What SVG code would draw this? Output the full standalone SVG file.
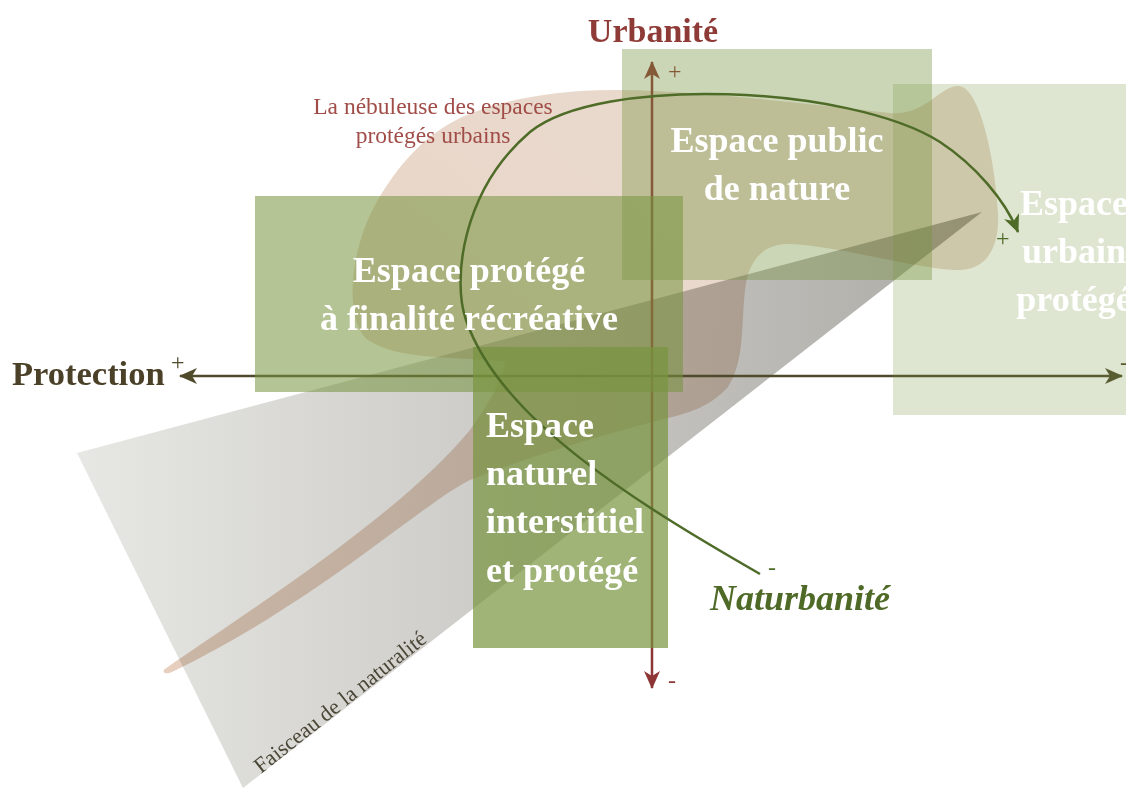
<svg xmlns="http://www.w3.org/2000/svg" width="1126" height="789" viewBox="0 0 1126 789">
<defs>
<linearGradient id="grayG" gradientUnits="userSpaceOnUse" x1="77" y1="0" x2="982" y2="0">
<stop offset="0" stop-color="#e7e7e4"/><stop offset="1" stop-color="#adaba6"/>
</linearGradient>
<linearGradient id="nebG" gradientUnits="userSpaceOnUse" x1="165" y1="670" x2="600" y2="150">
<stop offset="0" stop-color="#e6cfbe"/><stop offset="0.5" stop-color="#e8d4c6"/><stop offset="1" stop-color="#e9d9cc"/>
</linearGradient>
<marker id="arrRed" markerUnits="userSpaceOnUse" markerWidth="18" markerHeight="16" refX="17" refY="8" orient="auto-start-reverse" viewBox="0 0 18 16">
<path d="M0,0 L18,8 L0,16 L5,8 Z" fill="#8e3535"/>
</marker>
<marker id="arrOl" markerUnits="userSpaceOnUse" markerWidth="18" markerHeight="16" refX="17" refY="8" orient="auto-start-reverse" viewBox="0 0 18 16">
<path d="M0,0 L18,8 L0,16 L5,8 Z" fill="#4f4a2c"/>
</marker>
<marker id="arrGr" markerUnits="userSpaceOnUse" markerWidth="18" markerHeight="16" refX="17" refY="8" orient="auto" viewBox="0 0 18 16">
<path d="M0,0 L18,8 L0,16 L5,8 Z" fill="#4e6b28"/>
</marker>
<style>
.box{fill:#77943e}
.bt{font-family:"Liberation Serif",serif;font-weight:bold;font-size:36px;fill:#ffffff}
.sign{font-family:"Liberation Serif",serif;font-size:24px}
</style>
</defs>
<rect x="0" y="0" width="1126" height="789" fill="#ffffff"/>
<g id="faisceau">
<polygon points="77,453 982,212 243,788" fill="url(#grayG)"/>
<text x="261" y="774" transform="rotate(-38.5 261 774)" font-family="Liberation Serif, serif" font-size="22" fill="#4a4636">Faisceau de la naturalité</text>
</g>
<g id="nebuleuse">
<path style="mix-blend-mode:multiply" fill="url(#nebG)" d="M165,669 C250,610 400,515 470,430 C490,402 505,375 505,362 C470,356 400,362 368,340 C345,322 348,255 375,205 C395,170 425,128 480,110 C520,96 570,89 622,90 C700,91 800,103 890,113 C925,116 940,86 958,86 C980,86 995,160 998,212 C1000,250 985,270 958,270 C920,270 840,246 790,244 C762,243 748,262 745,290 C741,325 745,360 728,387 C712,405 690,413 668,418 C600,435 520,460 470,480 C420,505 320,600 172,672 C166,675 161,672 165,669 Z"/>
<text font-family="Liberation Serif, serif" font-size="23.5" fill="#a04d48" text-anchor="middle"><tspan x="433" y="114">La nébuleuse des espaces</tspan><tspan x="433" y="143">protégés urbains</tspan></text>
</g>
<g id="axes">
<line x1="652" y1="62" x2="652" y2="688" stroke="#8e3535" stroke-width="2.5" marker-start="url(#arrRed)" marker-end="url(#arrRed)"/>
<line x1="180" y1="376" x2="1122" y2="376" stroke="#4f4a2c" stroke-width="2.5" marker-start="url(#arrOl)" marker-end="url(#arrOl)"/>
<text class="sign" x="668" y="79" fill="#8e3535">+</text>
<text class="sign" x="668" y="688" fill="#8e3535">-</text>
<text class="sign" x="171" y="370" fill="#4f4a2c">+</text>
<text class="sign" x="1120" y="370" fill="#4f4a2c">-</text>
</g>
<g id="espace-protege-recreatif">
<rect class="box" x="255" y="196" width="428" height="196" fill-opacity="0.55"/>
</g>
<g id="espace-public-nature">
<rect class="box" x="622" y="49" width="310" height="231" fill-opacity="0.38"/>
</g>
<g id="espace-naturel-interstitiel">
<rect class="box" x="473" y="347" width="195" height="301" fill-opacity="0.7"/>
</g>
<g id="espace-urbain-protege">
<rect class="box" x="893" y="84" width="240" height="331" fill-opacity="0.245"/>
</g>
<g id="connectors">
<path d="M760,574 C640,505 500,420 466,320 C452,280 462,190 530,132 C600,75 850,85 940,142 C975,165 1005,200 1018,232" fill="none" stroke="#4e6b28" stroke-width="2.5" marker-end="url(#arrGr)"/>
<text class="sign" x="996" y="246" fill="#4e6b28">+</text>
<text class="sign" x="768" y="575" fill="#4e6b28">-</text>
</g>
<g id="labels">
<text class="bt" text-anchor="middle"><tspan x="777" y="152">Espace public</tspan><tspan x="777" y="200">de nature</tspan></text>
<text class="bt" text-anchor="middle"><tspan x="469" y="282">Espace protégé</tspan><tspan x="469" y="330">à finalité récréative</tspan></text>
<text class="bt"><tspan x="486" y="437">Espace</tspan><tspan x="486" y="485">naturel</tspan><tspan x="486" y="533">interstitiel</tspan><tspan x="486" y="582">et protégé</tspan></text>
<text class="bt" text-anchor="middle"><tspan x="1074" y="215">Espace</tspan><tspan x="1074" y="263">urbain</tspan><tspan x="1074" y="311">protégé</tspan></text>
<text x="653" y="42" text-anchor="middle" font-family="Liberation Serif, serif" font-weight="bold" font-size="34" fill="#8e3a36">Urbanité</text>
<text x="12" y="385" font-family="Liberation Serif, serif" font-weight="bold" font-size="34.5" fill="#4b4128">Protection</text>
<text x="710" y="610" font-family="Liberation Serif, serif" font-weight="bold" font-style="italic" font-size="36" fill="#4f6a27">Naturbanité</text>
</g>
</svg>
